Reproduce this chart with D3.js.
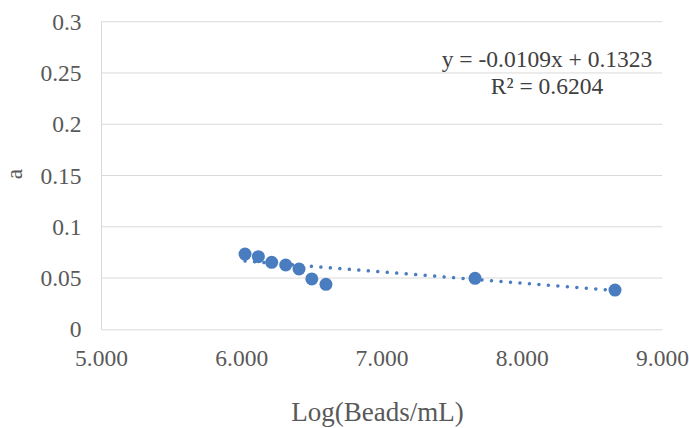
<!DOCTYPE html>
<html>
<head>
<meta charset="utf-8">
<script src="https://cdn.jsdelivr.net/npm/d3@7"></script>
<style>
  html, body { margin: 0; padding: 0; background: #fff; }
  svg { display: block; }
  text { font-family: "Liberation Serif", "Times New Roman", serif; }
</style>
</head>
<body>
<svg id="chart" width="689" height="428"></svg>
<script>
// ---- Data ----
const logBeads = [6.027, 6.122, 6.217, 6.317, 6.412, 6.503, 6.604, 7.667, 8.665];
const aValues  = [0.0734, 0.0708, 0.0653, 0.0627, 0.0588, 0.0491, 0.0439, 0.0497, 0.0383];
const xTicks = [5, 6, 7, 8, 9];
const yTicks = [0, 0.05, 0.1, 0.15, 0.2, 0.25, 0.3];
const trendSlope = -0.0109;
const trendIntercept = 0.1323;
const equationLabel = "y = -0.0109x + 0.1323";
const r2Label = "R² = 0.6204";
const xTitle = "Log(Beads/mL)";
const yTitle = "a";

// ---- Layout ----
const svg = d3.select("#chart");
const mLeft = 101, mRight = 662, mTop = 21.7, mBottom = 329.3;
const tickFont = 23.5;

const x = d3.scaleLinear().domain([5, 9]).range([mLeft, mRight]);
const y = d3.scaleLinear().domain([0, 0.3]).range([mBottom, mTop]);

// gridlines
svg.append("g")
  .selectAll("line")
  .data(yTicks.filter(d => d > 0))
  .join("line")
  .attr("x1", mLeft).attr("x2", mRight)
  .attr("y1", d => y(d)).attr("y2", d => y(d))
  .attr("stroke", "#d9d9d9").attr("stroke-width", 1);

// y axis
const yAxis = svg.append("g")
  .attr("transform", `translate(${mLeft},0)`)
  .call(d3.axisLeft(y).tickValues(yTicks).tickSize(0).tickPadding(19.5).tickFormat(d => String(+d.toFixed(2))));
yAxis.select(".domain").attr("stroke", "#d9d9d9");
yAxis.selectAll("text")
  .attr("font-size", tickFont).attr("fill", "#595959")
  .attr("font-family", "Liberation Serif, Times New Roman, serif");

// x axis
const xAxis = svg.append("g")
  .attr("transform", `translate(0,${mBottom})`)
  .call(d3.axisBottom(x).tickValues(xTicks).tickSize(0).tickPadding(20).tickFormat(d3.format(".3f")));
xAxis.select(".domain").attr("stroke", "#d9d9d9");
xAxis.selectAll("text")
  .attr("font-size", tickFont).attr("fill", "#595959")
  .attr("font-family", "Liberation Serif, Times New Roman, serif");

// trendline
const xMin = d3.min(logBeads), xMax = d3.max(logBeads);
svg.append("line")
  .attr("x1", x(xMin)).attr("y1", y(trendSlope * xMin + trendIntercept))
  .attr("x2", x(xMax)).attr("y2", y(trendSlope * xMax + trendIntercept))
  .attr("stroke", "#4a7cc0")
  .attr("stroke-width", 3.5)
  .attr("stroke-linecap", "round")
  .attr("stroke-dasharray", "0.01 9.5");

// points
svg.append("g")
  .selectAll("circle")
  .data(logBeads.map((v, i) => [v, aValues[i]]))
  .join("circle")
  .attr("cx", d => x(d[0]))
  .attr("cy", d => y(d[1]))
  .attr("r", 6.5)
  .attr("fill", "#4a7cc0");

// equation
svg.append("text")
  .attr("x", 547).attr("y", 67)
  .attr("text-anchor", "middle")
  .attr("font-size", tickFont).attr("fill", "#404040")
  .text(equationLabel);
svg.append("text")
  .attr("x", 547).attr("y", 94)
  .attr("text-anchor", "middle")
  .attr("font-size", tickFont).attr("fill", "#404040")
  .text(r2Label);

// axis titles
svg.append("text")
  .attr("x", (mLeft + mRight) / 2 - 4).attr("y", 421)
  .attr("text-anchor", "middle")
  .attr("font-size", 27).attr("fill", "#595959")
  .text(xTitle);
svg.append("text")
  .attr("transform", "translate(22,174) rotate(-90)")
  .attr("text-anchor", "middle")
  .attr("font-size", tickFont).attr("fill", "#595959")
  .text(yTitle);
</script>
</body>
</html>
